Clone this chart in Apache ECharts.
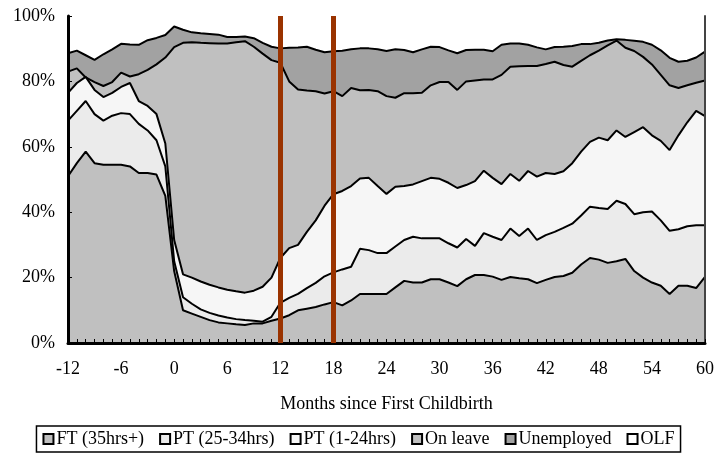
<!DOCTYPE html>
<html>
<head>
<meta charset="utf-8">
<script src="https://cdn.jsdelivr.net/npm/echarts@6/dist/echarts.min.js"></script>
<style>
  html, body { margin: 0; padding: 0; background: #fff; }
  #chart { width: 717px; height: 455px; }
</style>
</head>
<body>
<div id="chart"></div>
<script>
// months since first childbirth
var months = [
  -12, -11, -10, -9, -8, -7, -6, -5, -4, -3, -2, -1,
  0, 1, 2, 3, 4, 5, 6, 7, 8, 9, 10, 11,
  12, 13, 14, 15, 16, 17, 18, 19, 20, 21, 22, 23,
  24, 25, 26, 27, 28, 29, 30, 31, 32, 33, 34, 35,
  36, 37, 38, 39, 40, 41, 42, 43, 44, 45, 46, 47,
  48, 49, 50, 51, 52, 53, 54, 55, 56, 57, 58, 59, 60
]

// cumulative shares (%), top edge of each band
var ftTop = [
  51, 55, 58.5, 55, 54.5, 54.5, 54.5, 54, 52, 52, 51.5, 45,
  22, 10, 9, 8, 7, 6.3, 6, 5.7, 5.5, 6, 6, 6.8,
  7.5, 8.5, 10, 10.5, 11, 11.8, 12.5, 11.5, 13, 15, 15, 15,
  15, 17, 19, 18.5, 18.5, 19.5, 19.5, 18.5, 17.4, 19.5, 20.8, 20.8,
  20.3, 19.3, 20.2, 19.8, 19.5, 18.3, 19.3, 20.2, 20.5, 21.5, 24, 26,
  25.5, 24.5, 25, 25.7, 22, 20, 18.5, 17.5, 15, 17.5, 17.5, 16.8, 20.2
]
var pt25Top = [
  68, 71, 74, 70, 68, 69.5, 70.3, 70, 67, 65, 62, 54,
  25, 14, 12, 10.3, 9.2, 8.4, 7.8, 7.3, 7, 6.8, 6.5, 8,
  12.3, 13.8, 15, 16.8, 18.4, 20.4, 21.6, 22.5, 23.3, 28.8, 28.4, 27.5,
  27.5, 29.5, 31.5, 32.5, 32, 32, 32, 30.5, 29.2, 31.8, 29.7, 33.6,
  32.5, 31.5, 35, 32.7, 35, 31.5, 33, 34, 35.2, 36.5, 39, 41.7,
  41.3, 41, 43.5, 42.5, 39.4, 40, 40.2, 37.5, 34.3, 34.8, 35.7, 36, 36
]
var pt1Top = [
  76.5, 79.5, 81.4, 77.4, 75.2, 76.5, 78.3, 79.5, 74, 72.5, 70, 61,
  31.5, 21, 20, 18.8, 17.8, 17, 16.3, 15.8, 15.4, 16, 17.2, 20,
  26, 29, 30, 34, 37.5, 42, 45.5, 46.5, 48, 50.3, 50.5, 48,
  45.6, 47.8, 48, 48.5, 49.5, 50.5, 50.2, 49, 47.4, 48.3, 49.5, 52.7,
  50.5, 48.6, 51.7, 49.6, 52.6, 50.9, 52, 51.7, 52.5, 55, 58.5, 61.5,
  62.8, 62, 65, 63, 64.5, 66, 63.5, 61.8, 59, 63.5, 67.5, 71, 69.4
]
var leaveTop = [
  83, 84, 81.2, 79.8, 78.6, 79.8, 82.7, 81.5, 82.2, 83.5, 85.2, 87.3,
  90.5, 91.8, 92, 91.8, 91.7, 91.6, 91.6, 92, 92.3, 90.6, 88.5, 86.5,
  85.7, 80, 77.5, 77.2, 77, 76.3, 77, 75.5, 78, 77.3, 77.4, 77,
  75.5, 75, 76.4, 76.4, 76.5, 78.8, 79.8, 79.8, 77.4, 80, 80.3, 80.6,
  80.6, 82, 84.5, 84.6, 84.7, 84.7, 85.3, 86, 85, 84.5, 86.3, 88,
  89.4, 91, 92.5, 90.3, 89.3, 87.5, 85.2, 82, 78.8, 78, 78.8, 79.6, 80.3
]
var unempTop = [
  88.6, 89.4, 88, 86.6, 88.3, 89.8, 91.5, 91.3, 91.2, 92.6, 93.3, 94.2,
  96.8, 95.8, 95, 94.7, 94.5, 94.3, 93.6, 93.6, 93.7, 93.2, 91.8, 90.6,
  90.1, 90.3, 90.4, 90.6, 89.7, 88.9, 89.2, 89.4, 89.8, 90.1, 90.1, 89.8,
  89.3, 89.8, 89.6, 88.9, 89.8, 90.6, 90.5, 89.5, 88.6, 89.6, 89.7, 89.7,
  89.2, 91.2, 91.6, 91.6, 91.2, 90.4, 89.8, 90.5, 90.6, 90.8, 91.4, 91.4,
  91.8, 92.5, 92.9, 92.7, 92.4, 92.1, 91.2, 89.5, 87.2, 86, 86.3, 87.3, 89.1
]

var names = ['FT (35hrs+)', 'PT (25-34hrs)', 'PT (1-24hrs)', 'On leave', 'Unemployed', 'OLF']
var colors = ['#c0c0c0', '#ebebeb', '#f6f6f6', '#c0c0c0', '#a2a2a2', '#ffffff']
var markMonths = ['12', '18']

var font = 'Liberation Serif'

function band(idx, data, z) {
  return {
    name: names[idx],
    type: 'line',
    data: data,
    z: z,
    showSymbol: false,
    silent: true,
    lineStyle: { color: '#000', width: 2 },
    itemStyle: { color: colors[idx] },
    areaStyle: { color: colors[idx], opacity: 1, origin: 'start' }
  }
}

var chart = echarts.init(document.getElementById('chart'))

chart.setOption({
  animation: false,
  grid: { left: 68, right: 9, top: 16, bottom: 112 },
  legend: {
    data: names,
    bottom: 3,
    left: 'center',
    icon: 'rect',
    itemWidth: 10,
    itemHeight: 10,
    itemGap: 15,
    padding: [4, 6],
    borderColor: '#000',
    borderWidth: 1.5,
    itemStyle: { borderColor: '#000', borderWidth: 2 },
    textStyle: { fontFamily: font, fontSize: 18, color: '#000', padding: [0, 0, 0, -2] }
  },
  xAxis: [{
    type: 'category',
    data: months.map(String),
    boundaryGap: false,
    z: 10,
    name: 'Months since First Childbirth',
    nameLocation: 'middle',
    nameGap: 52,
    nameTextStyle: { fontFamily: font, fontSize: 18, color: '#000' },
    axisLine: { lineStyle: { color: '#000', width: 3 } },
    axisTick: { show: true, inside: true, interval: 0, length: 4, lineStyle: { color: '#000' } },
    axisLabel: { interval: 5, margin: 17, fontFamily: font, fontSize: 18, color: '#000' },
    splitLine: { show: false }
  }, {
    type: 'category',
    position: 'top',
    data: months.map(String),
    boundaryGap: false,
    z: 10,
    axisLine: { lineStyle: { color: '#000', width: 2 } },
    axisTick: { show: false },
    axisLabel: { show: false }
  }],
  yAxis: [{
    type: 'value',
    min: 0,
    max: 100,
    interval: 20,
    z: 10,
    axisLine: { show: true, lineStyle: { color: '#000', width: 3 } },
    axisTick: { show: true, inside: true, length: 4, lineStyle: { color: '#000' } },
    axisLabel: { formatter: '{value}%', margin: 13, fontFamily: font, fontSize: 18, color: '#000' },
    splitLine: { show: false }
  }, {
    type: 'value',
    position: 'right',
    min: 0,
    max: 100,
    z: 10,
    axisLine: { show: true, lineStyle: { color: '#444', width: 2 } },
    axisTick: { show: false },
    axisLabel: { show: false },
    splitLine: { show: false }
  }],
  series: [
    band(4, unempTop, 3),
    band(3, leaveTop, 4),
    band(2, pt1Top, 5),
    band(1, pt25Top, 6),
    band(0, ftTop, 7),
    {
      name: names[5],
      type: 'line',
      data: [],
      z: 20,
      itemStyle: { color: colors[5] },
      markLine: {
        z: 20, // markers default to z 5, below the lower bands
        silent: true,
        symbol: 'none',
        label: { show: false },
        lineStyle: { color: '#9a3300', width: 5, type: 'solid', opacity: 1 },
        data: markMonths.map(function (m) { return { xAxis: m } })
      }
    }
  ]
})
</script>
</body>
</html>
